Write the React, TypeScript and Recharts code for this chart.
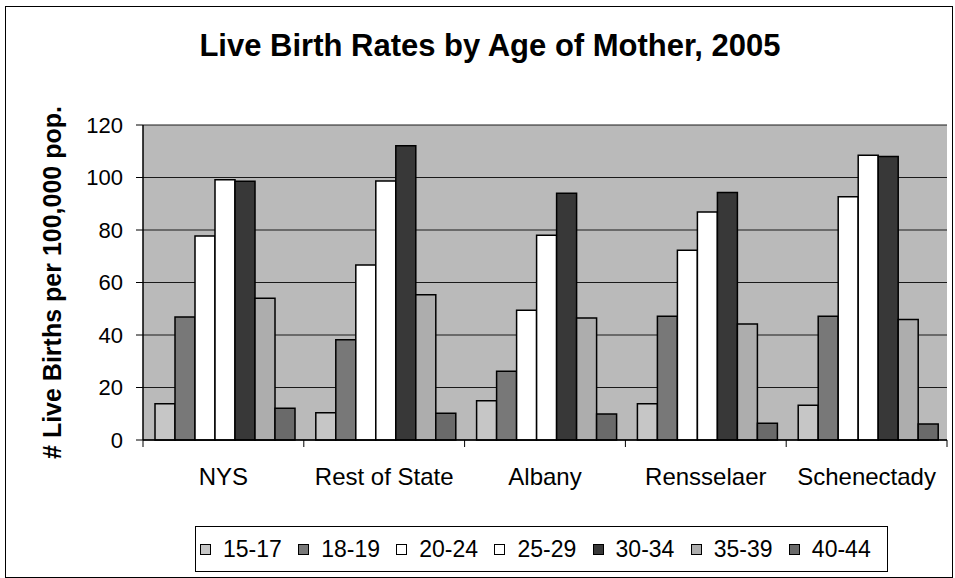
import { Bar, BarChart, CartesianGrid, XAxis, YAxis } from "recharts";

const ARIAL = "Arial, 'Liberation Sans', Helvetica, sans-serif";

const regions = ["NYS", "Rest of State", "Albany", "Rensselaer", "Schenectady"];
const ageGroups = ["15-17", "18-19", "20-24", "25-29", "30-34", "35-39", "40-44"];

// births per 100,000, one array per age group, in region order
const age15to17 = [13.8, 10.4, 15.0, 13.8, 13.2];
const age18to19 = [46.9, 38.2, 26.2, 47.1, 47.1];
const age20to24 = [77.7, 66.7, 49.4, 72.3, 92.7];
const age25to29 = [99.1, 98.7, 78.0, 86.9, 108.5];
const age30to34 = [98.6, 112.1, 94.0, 94.3, 108.0];
const age35to39 = [54.0, 55.3, 46.5, 44.2, 45.9];
const age40to44 = [12.1, 10.2, 9.9, 6.4, 6.1];

const yTicks = [0, 20, 40, 60, 80, 100, 120];

const seriesValues = [age15to17, age18to19, age20to24, age25to29, age30to34, age35to39, age40to44];
const fills = ["#c6c6c6", "#787878", "#ffffff", "#ffffff", "#383838", "#adadad", "#6a6a6a"];

const data = regions.map((name, i) => {
  const row: Record<string, string | number> = { name };
  ageGroups.forEach((g, k) => {
    row[g] = seriesValues[k][i];
  });
  return row;
});

function CategoryTick(props: any) {
  const { x, y, payload, index, visibleTicksCount } = props;
  const half = payload?.offset ?? 80;
  const last = index === visibleTicksCount - 1;
  return (
    <g>
      <line x1={x - half} x2={x - half} y1={y} y2={y + 7} stroke="#000" />
      {last && <line x1={x + half} x2={x + half} y1={y} y2={y + 7} stroke="#000" />}
      <text x={x} y={y + 45} textAnchor="middle" fontSize={24} fontFamily={ARIAL} fill="#000">
        {payload.value}
      </text>
    </g>
  );
}

function YTitle(props: any) {
  const vb = props.viewBox || { x: 20, y: 125, width: 123, height: 315 };
  const cx = vb.x + 32;
  const cy = vb.y + vb.height / 2;
  return (
    <text
      x={cx}
      y={cy}
      transform={`rotate(-90 ${cx} ${cy})`}
      textAnchor="middle"
      dominantBaseline="central"
      fontSize={25}
      fontWeight="bold"
      fontFamily={ARIAL}
      fill="#000"
    >
      # Live Births per 100,000 pop.
    </text>
  );
}

export default function App() {
  return (
    <div style={{ position: "absolute", left: 0, top: 0, width: 955, height: 578, background: "#fff" }}>
      <div
        style={{
          position: "absolute",
          left: 5,
          top: 6,
          width: 946,
          height: 570,
          border: "1px solid #000",
        }}
      />
      <div
        style={{
          position: "absolute",
          left: 90,
          top: 30,
          width: 800,
          textAlign: "center",
          fontFamily: ARIAL,
          fontWeight: "bold",
          fontSize: 31,
          lineHeight: "31px",
        }}
      >
        Live Birth Rates by Age of Mother, 2005
      </div>
      <div style={{ position: "absolute", left: 0, top: 0 }}>
        <BarChart
          width={955}
          height={578}
          data={data}
          margin={{ top: 125, right: 8, bottom: 108, left: 20 }}
          barCategoryGap={12}
          barGap={0}
        >
          <CartesianGrid vertical={false} stroke="#1a1a1a" fill="#bababa" fillOpacity={1} />
          <XAxis
            dataKey="name"
            height={30}
            axisLine={{ stroke: "#000", strokeWidth: 1.5 }}
            tickLine={false}
            tickSize={0}
            tickMargin={0}
            interval={0}
            tick={<CategoryTick />}
          />
          <YAxis
            width={123}
            domain={[0, 120]}
            ticks={yTicks}
            interval={0}
            axisLine={{ stroke: "#000", strokeWidth: 1.5 }}
            tickLine={{ stroke: "#000" }}
            tickSize={7}
            tickMargin={13}
            tick={{ fontSize: 22, fill: "#000", fontFamily: ARIAL }}
            label={{ content: (p: any) => <YTitle {...p} /> }}
          />
          {ageGroups.map((g, k) => (
            <Bar
              key={g}
              dataKey={g}
              fill={fills[k]}
              stroke="#000"
              strokeWidth={1.5}
              isAnimationActive={false}
            />
          ))}
        </BarChart>
      </div>
      <div
        style={{
          position: "absolute",
          left: 195,
          top: 526,
          width: 693,
          height: 46,
          boxSizing: "border-box",
          border: "1px solid #000",
          display: "flex",
          alignItems: "center",
          paddingLeft: 4,
          fontFamily: ARIAL,
          fontSize: 23,
        }}
      >
        {ageGroups.map((g, k) => (
          <div key={g} style={{ width: 99, display: "flex", alignItems: "center" }}>
            <span
              style={{
                display: "inline-block",
                width: 11,
                height: 11,
                boxSizing: "border-box",
                border: "1px solid #000",
                background: fills[k],
                marginRight: 12,
              }}
            />
            <span>{g}</span>
          </div>
        ))}
      </div>
    </div>
  );
}
